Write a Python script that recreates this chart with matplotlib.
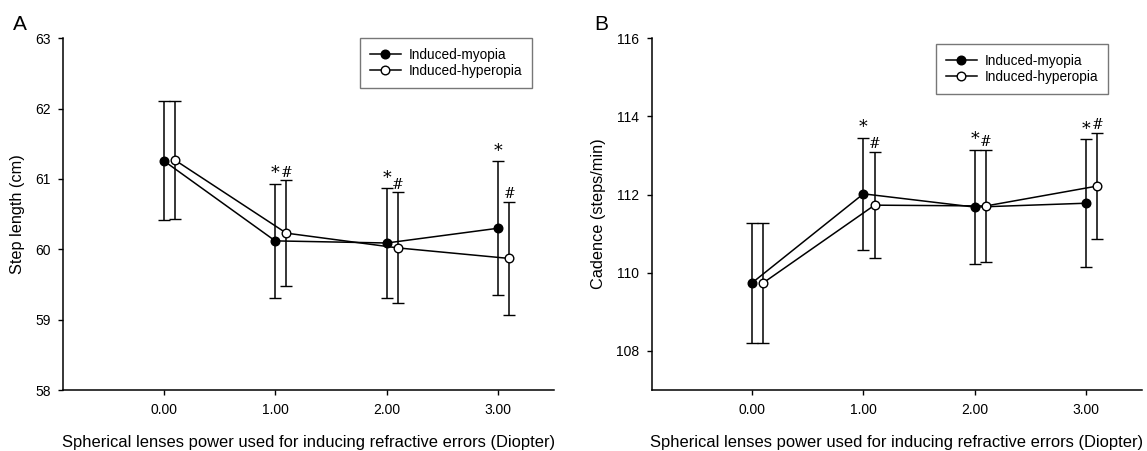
import matplotlib
matplotlib.use("Agg")
import matplotlib.pyplot as plt
import numpy as np

plt.rcParams['font.family'] = ['Liberation Sans', 'DejaVu Sans']

# Lens power (diopter)
power = [0.0, 1.0, 2.0, 3.0]
tick_labels = ["0.00", "1.00", "2.00", "3.00"]

# Step length (cm), mean and SD
step_myopia = [61.26, 60.12, 60.09, 60.30]
step_myopia_sd = [0.85, 0.81, 0.78, 0.95]
step_hyperopia = [61.27, 60.23, 60.02, 59.87]
step_hyperopia_sd = [0.84, 0.75, 0.79, 0.80]
step_myopia_sig = ["", "*", "*", "*"]
step_hyperopia_sig = ["", "#", "#", "#"]

# Cadence (steps/min), mean and SD
cad_myopia = [109.74, 112.02, 111.68, 111.78]
cad_myopia_sd = [1.54, 1.44, 1.46, 1.64]
cad_hyperopia = [109.74, 111.73, 111.71, 112.22]
cad_hyperopia_sd = [1.54, 1.36, 1.44, 1.36]
cad_myopia_sig = ["", "*", "*", "*"]
cad_hyperopia_sig = ["", "#", "#", "#"]

OFFSET = 0.1
XLABEL = "Spherical lenses power used for inducing refractive errors (Diopter)"
W, H = 1147, 451

fig = plt.figure(figsize=(W / 100, H / 100), dpi=100)
axA = fig.add_axes([63.3 / W, 1 - 390 / H, 490.7 / W, 351.7 / H])
axB = fig.add_axes([651.7 / W, 1 - 390 / H, 490.3 / W, 351.7 / H])


def draw_panel(ax, my, my_sd, hy, hy_sd, my_sig, hy_sig, ylim, yticks, ylabel,
               sig_pad, legend_xy):
    x = np.array(power)
    eb_kw = dict(color="black", lw=1.1, elinewidth=1.1, capsize=4.0, capthick=1.1,
                 markersize=6.2, markeredgewidth=1.0, markeredgecolor="black")
    c1 = ax.errorbar(x, my, yerr=my_sd, fmt="-o", markerfacecolor="black",
                     label="Induced-myopia", zorder=3, **eb_kw)
    c2 = ax.errorbar(x + OFFSET, hy, yerr=hy_sd, fmt="-o", markerfacecolor="white",
                     label="Induced-hyperopia", zorder=4, **eb_kw)

    for xi, m, s, t in zip(x, my, my_sd, my_sig):
        if t:
            ax.text(xi, m + s + sig_pad, t, ha="center", va="bottom",
                    fontsize=12.5, family="DejaVu Serif")
    for xi, m, s, t in zip(x + OFFSET, hy, hy_sd, hy_sig):
        if t:
            ax.text(xi, m + s + sig_pad * 0.6, t, ha="center", va="bottom",
                    fontsize=10, family="DejaVu Serif")

    ax.set_xlim(-0.9, 3.5)
    ax.set_ylim(*ylim)
    ax.set_xticks(power)
    ax.set_xticklabels(tick_labels)
    ax.set_yticks(yticks)
    ax.spines["top"].set_visible(False)
    ax.spines["right"].set_visible(False)
    for sp in ("left", "bottom"):
        ax.spines[sp].set_linewidth(1.1)
    ax.tick_params(direction="out", length=3.5, width=1.0, labelsize=10,
                   colors="black", pad=5.5)
    ax.set_xlabel(XLABEL, fontsize=11.9, labelpad=13)
    ax.set_ylabel(ylabel, fontsize=11.7, labelpad=7)

    leg = ax.legend(handles=[c1[0], c2[0]], labels=["Induced-myopia", "Induced-hyperopia"],
                    loc="upper left", bbox_to_anchor=legend_xy,
                    bbox_transform=fig.transFigure, fontsize=9.8,
                    frameon=True, fancybox=False, edgecolor="#555555",
                    handlelength=2.3, borderpad=0.7, labelspacing=0.2,
                    handletextpad=0.6, borderaxespad=0)
    leg.get_frame().set_linewidth(1.0)


draw_panel(axA, step_myopia, step_myopia_sd, step_hyperopia, step_hyperopia_sd,
           step_myopia_sig, step_hyperopia_sig, (58, 63), [58, 59, 60, 61, 62, 63],
           "Step length (cm)", 0.02, (360 / W, 1 - 38 / H))
draw_panel(axB, cad_myopia, cad_myopia_sd, cad_hyperopia, cad_hyperopia_sd,
           cad_myopia_sig, cad_hyperopia_sig, (107, 116), [108, 110, 112, 114, 116],
           "Cadence (steps/min)", 0.04, (936 / W, 1 - 44 / H))

fig.text(12.7 / W, 1 - 30 / H, "A", fontsize=15)
fig.text(594 / W, 1 - 30 / H, "B", fontsize=15)

fig.savefig("out.png", dpi=100)
